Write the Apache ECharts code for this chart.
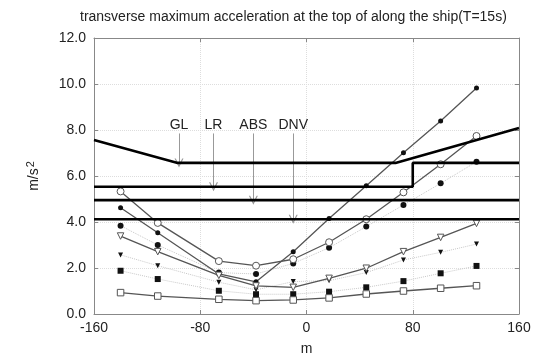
<!DOCTYPE html>
<html><head><meta charset="utf-8">
<script src="https://cdn.jsdelivr.net/npm/echarts@6/dist/echarts.min.js"></script>
<style>html,body{margin:0;padding:0;background:#fff}#c{width:542px;height:361px}</style>
</head><body><div id="c"></div>
<script>
var positions = [-140, -112, -66, -38, -10, 17, 45, 73, 101, 128];
var openCircle = [5.33, 3.96, 2.3, 2.1, 2.38, 3.12, 4.12, 5.29, 6.51, 7.74];
var filledCircleSolid = [4.62, 3.53, 1.74, 1.4, 2.71, 4.15, 5.58, 7.01, 8.39, 9.83];
var filledCircleDotted = [3.84, 3.0, 1.8, 1.74, 2.2, 2.88, 3.8, 4.74, 5.68, 6.62];
var openTriangle = [3.39, 2.71, 1.68, 1.22, 1.16, 1.55, 1.99, 2.71, 3.33, 3.94];
var filledTriangle = [2.57, 2.1, 1.38, 1.05, 1.41, 1.45, 1.8, 2.35, 2.68, 3.04];
var filledSquare = [1.88, 1.52, 1.01, 0.86, 0.86, 0.97, 1.16, 1.43, 1.77, 2.09];
var openSquare = [0.93, 0.78, 0.64, 0.58, 0.61, 0.7, 0.87, 1.0, 1.12, 1.23];

var ruleGL = [[-160, 7.57], [-97, 6.57], [67, 6.57], [160, 8.09]];
var ruleLR = [[-160, 5.53], [80, 5.53], [80, 6.57], [160, 6.57]];
var ruleABS = [[-160, 4.95], [160, 4.95]];
var ruleDNV = [[-160, 4.12], [160, 4.12]];

var arrowNames = ['GL', 'LR', 'ABS', 'DNV'];
var arrowX = [-96, -70, -40, -10];
var arrowTop = 7.85;
var arrowTip = [6.57, 5.53, 4.95, 4.12];

function pts(vals) { return positions.map(function (x, i) { return [x, vals[i]]; }); }

var dark = '#555';
var light = '#c8c8c8';
var FONT = 'Liberation Sans';
function dataSeries(vals, symbol, size, filled, solid, rotate) {
  return {
    type: 'line', data: pts(vals), symbol: symbol, symbolSize: size, symbolRotate: rotate || 0,
    showAllSymbol: true, z: solid ? 4 : 3,
    lineStyle: { color: solid ? dark : light, width: solid ? 1.3 : 1, type: solid ? 'solid' : 'dotted' },
    itemStyle: filled ? { color: '#111', borderColor: '#111', borderWidth: 0 } : { color: '#fff', borderColor: '#555', borderWidth: 1 },
    emphasis: { disabled: true }, animation: false
  };
}
function rule(d) {
  return { type: 'line', data: d, symbol: 'none', z: 5, lineStyle: { color: '#000', width: 2.6 }, animation: false };
}
var axisLineStyle = { show: true, onZero: false, lineStyle: { color: '#888', width: 1 } };
var tickStyle = { inside: true, length: 4, lineStyle: { color: '#888' } };

var chart = echarts.init(document.getElementById('c'));
chart.setOption({
  animation: false,
  title: { text: 'transverse maximum acceleration at the top of along the ship(T=15s)', left: 75, top: 5,
    textStyle: { fontFamily: FONT, fontSize: 14, fontWeight: 'normal', color: '#222' } },
  grid: { left: 94, right: 23, top: 38, bottom: 47 },
  xAxis: [{
    type: 'value', min: -160, max: 160, interval: 80,
    name: 'm', nameLocation: 'middle', nameGap: 28,
    nameTextStyle: { fontFamily: FONT, fontSize: 14, color: '#222' },
    axisLine: axisLineStyle, axisTick: tickStyle,
    axisLabel: { fontFamily: FONT, fontSize: 14, color: '#222', margin: 7 },
    splitLine: { show: true, lineStyle: { color: '#ddd', type: 'dotted' } }
  }, {
    type: 'value', position: 'top', min: -160, max: 160, interval: 80,
    axisLine: axisLineStyle, axisTick: tickStyle, axisLabel: { show: false }, splitLine: { show: false }
  }],
  yAxis: [{
    type: 'value', min: 0, max: 12, interval: 2,
    name: '{a|m/s}{b|2}', nameLocation: 'middle', nameGap: 50, nameRotate: 90,
    nameTextStyle: { rich: {
      a: { fontFamily: FONT, fontSize: 14, color: '#222' },
      b: { fontFamily: FONT, fontSize: 11, color: '#222', verticalAlign: 'top', padding: [0, 0, 8, 1] } } },
    axisLine: axisLineStyle, axisTick: tickStyle,
    axisLabel: { fontFamily: FONT, fontSize: 14, color: '#222', margin: 8,
      formatter: function (v) { return v.toFixed(1); } },
    splitLine: { show: true, lineStyle: { color: '#ddd', type: 'dotted' } }
  }, {
    type: 'value', position: 'right', min: 0, max: 12, interval: 2,
    axisLine: axisLineStyle, axisTick: tickStyle, axisLabel: { show: false }, splitLine: { show: false }
  }],
  series: [
    rule(ruleGL), rule(ruleLR), rule(ruleABS), rule(ruleDNV),
    dataSeries(openCircle, 'circle', 7, false, true),
    dataSeries(filledCircleSolid, 'circle', 5, true, true),
    dataSeries(filledCircleDotted, 'circle', 6, true, false),
    dataSeries(openTriangle, 'triangle', 6.5, false, true, 180),
    dataSeries(filledTriangle, 'triangle', 5, true, false, 180),
    dataSeries(filledSquare, 'rect', 6, true, false),
    dataSeries(openSquare, 'rect', 6.5, false, true),
    {
      type: 'line', data: [], z: 6,
      markLine: {
        silent: true, animation: false,
        symbol: ['none', 'path://M0,10L5,0L10,10L8.6,10L5,3L1.4,10Z'], symbolSize: 9,
        lineStyle: { color: '#999', width: 1, type: 'solid' },
        label: { show: true, position: 'start', distance: 1, formatter: '{b}',
          fontFamily: FONT, fontSize: 14, color: '#222' },
        data: arrowNames.map(function (n, i) {
          return [{ name: n, coord: [arrowX[i], arrowTop] }, { coord: [arrowX[i], arrowTip[i]] }];
        })
      }
    }
  ]
});
</script></body></html>
